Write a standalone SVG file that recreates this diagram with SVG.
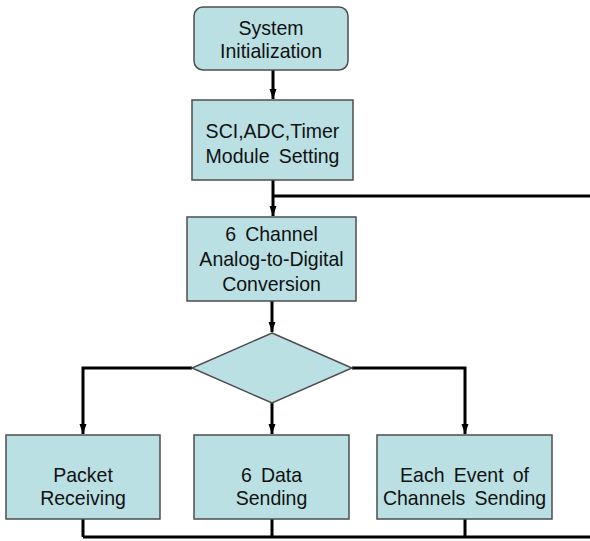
<svg xmlns="http://www.w3.org/2000/svg" width="590" height="541" viewBox="0 0 590 541">
<style>
.box{fill:#bae0e3;stroke:#4d4d4d;stroke-width:1.5}
.t{font-family:"Liberation Sans",Arial,sans-serif;font-size:21px;fill:#111;text-anchor:middle}
.w{word-spacing:4px}
.c{fill:none;stroke:#000;stroke-width:3}
</style>
<defs>
<marker id="ah" markerUnits="userSpaceOnUse" markerWidth="10" markerHeight="8" refX="10" refY="4" orient="auto">
<path d="M0,0.5 L10,4 L0,7.5 z" fill="#000"/>
</marker>
</defs>
<rect width="590" height="541" fill="#fff"/>
<g id="connectors">
<path class="c" d="M273,70 V99" marker-end="url(#ah)"/>
<path class="c" d="M273,180 V216" marker-end="url(#ah)"/>
<path class="c" d="M590,196 H273"/>
<path class="c" d="M272,301 V332" marker-end="url(#ah)"/>
<path class="c" d="M192,368 H83 V434" marker-end="url(#ah)"/>
<path class="c" d="M352,368 H465 V434" marker-end="url(#ah)"/>
<path class="c" d="M272,403 V434" marker-end="url(#ah)"/>
<path class="c" d="M83,519 V537 M272,519 V537 M465,519 V537 M83,537 H590"/>
</g>
<g id="init">
<rect class="box" x="194" y="7" width="154" height="63" rx="9"/>
<g transform="translate(271,0) scale(0.93,1)">
<text class="t" x="0" y="35">System</text>
<text class="t" x="0" y="58">Initialization</text>
</g>
</g>
<g id="setting">
<rect class="box" x="192" y="100" width="161" height="80"/>
<g transform="translate(272.5,0) scale(0.93,1)">
<text class="t" x="0" y="138">SCI,ADC,Timer</text>
<text class="t w" x="0" y="163">Module Setting</text>
</g>
</g>
<g id="adc">
<rect class="box" x="187" y="217" width="169" height="84"/>
<g transform="translate(271.5,0) scale(0.93,1)">
<text class="t w" x="0" y="241">6 Channel</text>
<text class="t" x="0" y="266">Analog-to-Digital</text>
<text class="t" x="0" y="291">Conversion</text>
</g>
</g>
<g id="decision">
<polygon class="box" points="272,333 352,368 272,403 192,368"/>
</g>
<g id="packet">
<rect class="box" x="6" y="435" width="154" height="84"/>
<g transform="translate(83,0) scale(0.93,1)">
<text class="t" x="0" y="482">Packet</text>
<text class="t" x="0" y="505">Receiving</text>
</g>
</g>
<g id="data">
<rect class="box" x="194" y="435" width="155" height="84"/>
<g transform="translate(271.5,0) scale(0.93,1)">
<text class="t w" x="0" y="482">6 Data</text>
<text class="t" x="0" y="505">Sending</text>
</g>
</g>
<g id="event">
<rect class="box" x="377" y="435" width="175" height="84"/>
<g transform="translate(464.5,0) scale(0.93,1)">
<text class="t w" x="0" y="482">Each Event of</text>
<text class="t w" x="0" y="505">Channels Sending</text>
</g>
</g>
</svg>
